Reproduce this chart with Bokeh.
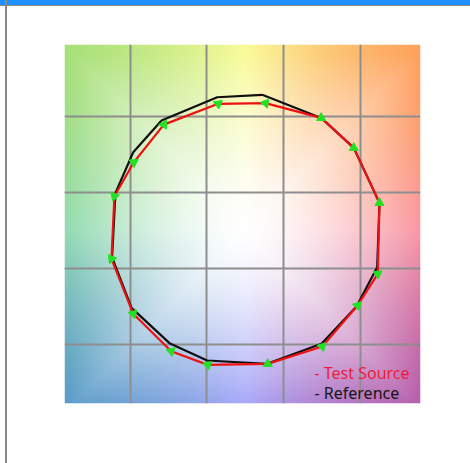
import numpy as np
from bokeh.plotting import figure
from bokeh.models import Range1d, FixedTicker, Label, Div
from bokeh.layouts import column
from bokeh.embed import file_html
from bokeh.resources import INLINE

# ---- data ----
ref_x = [11.1, 49.6, 70.9, 87.7, 86.2, 72.7, 49.8, 14.3, -24.9, -49.5, -74.3, -87.0, -84.8, -73.2, -54.7, -18.3]
ref_y = [89.1, 73.9, 54.2, 18.0, -24.3, -50.2, -74.7, -87.9, -85.7, -74.3, -51.1, -17.8, 24.6, 51.3, 72.2, 87.5]
test_x = [13.2, 49.6, 70.9, 87.7, 86.6, 73.4, 50.3, 14.7, -24.5, -48.4, -73.2, -87.4, -85.5, -72.8, -53.2, -17.7]
test_y = [83.6, 73.9, 54.2, 18.0, -28.7, -49.5, -76.5, -87.9, -88.6, -79.6, -55.0, -18.8, 22.4, 44.7, 69.5, 83.2]
grid_ticks = [-75, -25, 25, 75]
legend_labels = ["- Test Source", "- Reference"]

# background hue anchors (angle in degrees -> colour at the square's edge)
anchor_angles = [0, 45, 90, 135, 180, 225, 270, 315]
anchor_colors = [(250, 150, 162), (255, 160, 90), (250, 252, 155), (168, 224, 120),
                 (150, 220, 180), (90, 155, 200), (165, 165, 250), (180, 90, 170)]

X0, X1 = -118.1, 114.5
Y0, Y1 = -114.0, 122.2

p = figure(width=462, height=455, output_backend="svg", toolbar_location=None,
           x_range=Range1d(X0, X1), y_range=Range1d(Y0, Y1),
           min_border_left=64, min_border_right=42, min_border_top=44, min_border_bottom=52)
p.xaxis.visible = False
p.yaxis.visible = False
p.outline_line_color = None
p.background_fill_color = "white"
p.border_fill_color = "white"

# ---- gradient background ----
N = 240
xs = np.linspace(X0, X1, N)
ys = np.linspace(Y0, Y1, N)
XX, YY = np.meshgrid(xs, ys)
u = XX / 116.0
v = YY / 118.0
ang = (np.degrees(np.arctan2(v, u)) + 360) % 360
r = np.clip(np.maximum(np.abs(u), np.abs(v)), 0, 1)
t = r ** 1.5
aa = np.array(anchor_angles + [360], dtype=float)
cols = np.array(anchor_colors + [anchor_colors[0]], dtype=float)
img = np.zeros((N, N), dtype=np.uint32)
view = img.view(dtype=np.uint8).reshape((N, N, 4))
for c in range(3):
    edge = np.interp(ang, aa, cols[:, c])
    view[:, :, c] = np.clip(255 * (1 - t) + edge * t, 0, 255).astype(np.uint8)
view[:, :, 3] = 255
p.image_rgba(image=[img], x=X0, y=Y0, dw=X1 - X0, dh=Y1 - Y0, level="image")

# ---- grid ----
p.xgrid.ticker = FixedTicker(ticks=grid_ticks)
p.ygrid.ticker = FixedTicker(ticks=grid_ticks)
for g in (p.xgrid, p.ygrid):
    g.grid_line_color = "#8e8e8e"
    g.grid_line_width = 2
    g.grid_line_alpha = 1.0

# ---- polygons ----
p.line(ref_x + ref_x[:1], ref_y + ref_y[:1], line_color="#101010", line_width=2.2)
p.line(test_x + test_x[:1], test_y + test_y[:1], line_color="#ee1111", line_width=2.2)

# ---- arrows (reference -> test) ----
angles = []
for rx, ry, tx, ty in zip(ref_x, ref_y, test_x, test_y):
    dx, dy = tx - rx, ty - ry
    if abs(dx) + abs(dy) < 0.5:
        angles.append(0.0)
    else:
        angles.append(float(np.arctan2(dy, dx) - np.pi / 2))
p.scatter(test_x, test_y, marker="triangle", size=9, angle=angles,
          fill_color="#22e022", line_color="#22e022")

# ---- legend text (screen units relative to the plot frame) ----
p.add_layout(Label(x=250, y=31, x_units="screen", y_units="screen", text=legend_labels[0],
                   text_color="#ee1c3c", text_font="Noto Sans", text_font_size="16px",
                   text_baseline="alphabetic"))
p.add_layout(Label(x=250, y=11, x_units="screen", y_units="screen", text=legend_labels[1],
                   text_color="#151515", text_font="Noto Sans", text_font_size="16px",
                   text_baseline="alphabetic"))

# window chrome seen in the reference: top title bar and left border line
chrome = Div(text=(
    '<div style="position:fixed;left:0;top:0;width:470px;height:5px;background:#1e90ff;"></div>'
    '<div style="position:fixed;left:0;top:5px;width:470px;height:1px;background:#888;"></div>'
    '<div style="position:fixed;left:5px;top:0;width:2px;height:463px;background:#888;"></div>'),
    width=1, height=1, styles={"position": "fixed", "left": "0px", "top": "0px"})

layout = column(p, chrome, spacing=0)
open("out.html", "w").write(file_html(layout, INLINE))
